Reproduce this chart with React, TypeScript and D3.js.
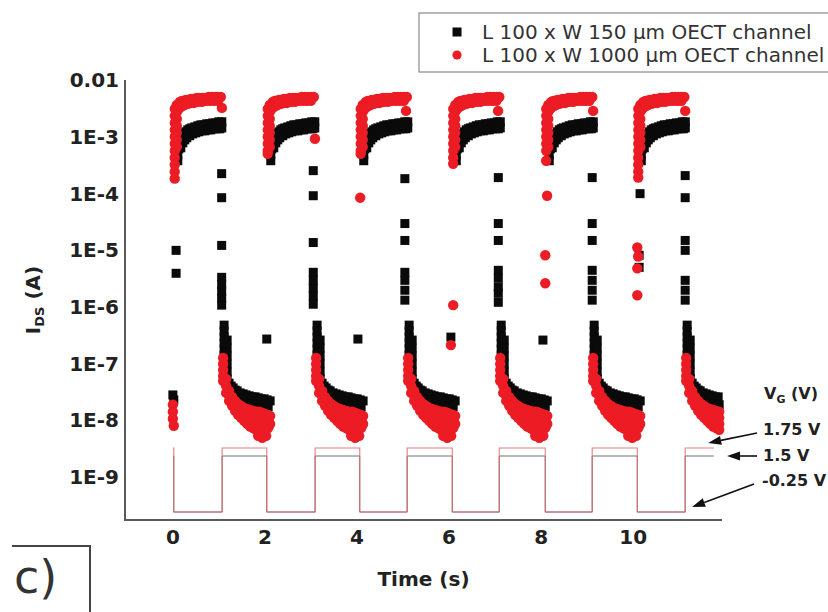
import React from 'react'
import * as d3 from 'd3'

type Pt = [number, number]

// Axes
const timeTicks = [0, 2, 4, 6, 8, 10]
const currentTicks = [1e-2, 1e-3, 1e-4, 1e-5, 1e-6, 1e-7, 1e-8, 1e-9]
const currentTickLabels = ['0.01', '1E-3', '1E-4', '1E-5', '1E-6', '1E-7', '1E-8', '1E-9']

// Gate switching (s): ON phases start at gateFall, OFF phases at gateRise
const gateFall = [0.02, 2.04, 4.06, 6.07, 8.09, 10.09]
const gateRise = [1.07, 3.09, 5.09, 7.09, 9.11, 11.13]
const gateStart = 0.0
const gateStop = 11.75
const recordEnd = 11.87
const gateLow = -0.25
const gateHighW150 = 1.5
const gateHighW1000 = 1.75

// One switching cycle: [s after the switch, I_DS (A)]
const blackOnTrace: Pt[] = [
  [0.087, 3.77e-4], [0.087, 4.8e-4], [0.109, 6.1e-4], [0.13, 7.5e-4], [0.152, 8.8e-4],
  [0.174, 9.96e-4], [0.217, 1.12e-3], [0.261, 1.22e-3], [0.304, 1.32e-3], [0.348, 1.38e-3],
  [0.391, 1.43e-3], [0.457, 1.49e-3], [0.522, 1.56e-3], [0.587, 1.62e-3], [0.652, 1.62e-3],
  [0.717, 1.69e-3], [0.783, 1.69e-3], [0.848, 1.75e-3], [0.913, 1.75e-3], [0.978, 1.83e-3],
  [1.043, 1.83e-3],
  [0.152, 6.38e-4], [0.196, 7.8e-4], [0.239, 8.8e-4], [0.283, 9.6e-4], [0.348, 1.04e-3],
  [0.413, 1.12e-3], [0.478, 1.17e-3], [0.543, 1.22e-3], [0.609, 1.27e-3], [0.674, 1.27e-3],
  [0.739, 1.32e-3], [0.804, 1.32e-3], [0.87, 1.38e-3], [0.935, 1.38e-3], [1.0, 1.38e-3],
  [1.043, 1.43e-3],
]
const redOnTrace: Pt[] = [
  [0.022, 5.65e-4], [0.022, 7.5e-4], [0.022, 9.96e-4], [0.022, 1.32e-3], [0.022, 1.75e-3],
  [0.022, 2.33e-3], [0.022, 3.09e-3],
  [0.065, 6.6e-4], [0.065, 8.8e-4], [0.065, 1.17e-3], [0.065, 1.56e-3], [0.065, 2.06e-3],
  [0.065, 2.74e-3], [0.065, 3.64e-3],
  [0.13, 4.11e-3], [0.174, 4.28e-3], [0.217, 4.28e-3], [0.261, 4.45e-3], [0.304, 4.45e-3],
  [0.37, 4.64e-3], [0.435, 4.64e-3], [0.5, 4.83e-3], [0.565, 4.83e-3], [0.63, 4.83e-3],
  [0.696, 4.83e-3], [0.761, 5.02e-3], [0.826, 5.02e-3], [0.891, 5.02e-3], [0.957, 5.02e-3],
  [1.022, 5.02e-3],
  [0.109, 3.09e-3], [0.152, 3.35e-3], [0.196, 3.49e-3], [0.239, 3.64e-3], [0.304, 3.79e-3],
  [0.37, 3.94e-3], [0.435, 3.94e-3], [0.522, 4.11e-3], [0.609, 4.11e-3], [0.696, 4.28e-3],
  [0.783, 4.28e-3], [0.87, 4.28e-3], [0.957, 4.28e-3],
]
const blackOffTrace: Pt[] = [
  [0.043, 4.75e-7], [0.043, 3.73e-7], [0.043, 2.92e-7], [0.043, 2.29e-7], [0.043, 1.8e-7],
  [0.043, 1.41e-7], [0.043, 1.11e-7], [0.043, 8.7e-8], [0.043, 6.8e-8],
  [0.109, 2.59e-7], [0.109, 1.87e-7], [0.109, 1.36e-7], [0.109, 9.8e-8], [0.109, 7.1e-8],
  [0.109, 5.35e-8],
  [0.152, 4.5e-8], [0.196, 4.0e-8], [0.239, 3.71e-8], [0.283, 3.4e-8], [0.326, 3.29e-8],
  [0.391, 3.03e-8], [0.457, 2.91e-8], [0.522, 2.79e-8], [0.587, 2.69e-8], [0.652, 2.58e-8],
  [0.717, 2.58e-8], [0.783, 2.48e-8], [0.848, 2.38e-8], [0.913, 2.38e-8], [0.978, 2.28e-8],
  [1.043, 2.19e-8],
  [0.174, 3.29e-8], [0.239, 2.79e-8], [0.304, 2.48e-8], [0.391, 2.28e-8], [0.478, 2.11e-8],
  [0.565, 2.02e-8], [0.652, 1.94e-8], [0.739, 1.87e-8], [0.826, 1.79e-8], [0.913, 1.79e-8],
  [1.0, 1.72e-8],
  [0.957, 1.1e-8], [1.022, 8.6e-9],
]
const redOffTrace: Pt[] = [
  [0.022, 1.25e-7], [0.022, 9.8e-8], [0.022, 7.69e-8], [0.022, 6.03e-8], [0.022, 4.92e-8],
  [0.087, 5.35e-8], [0.087, 4.03e-8], [0.087, 3.03e-8],
  [0.152, 3.29e-8], [0.152, 2.69e-8], [0.152, 2.19e-8],
  [0.217, 2.58e-8], [0.217, 2.11e-8], [0.217, 1.79e-8],
  [0.283, 2.19e-8], [0.283, 1.79e-8], [0.283, 1.46e-8],
  [0.348, 1.94e-8], [0.348, 1.58e-8], [0.348, 1.24e-8],
  [0.413, 1.79e-8], [0.413, 1.41e-8], [0.413, 1.1e-8],
  [0.478, 1.65e-8], [0.478, 1.29e-8], [0.478, 9.8e-9],
  [0.543, 1.58e-8], [0.543, 1.29e-8], [0.543, 1.06e-8], [0.543, 8.6e-9],
  [0.609, 1.52e-8], [0.609, 1.19e-8], [0.609, 9.8e-9], [0.609, 7.7e-9],
  [0.674, 1.46e-8], [0.674, 1.15e-8], [0.674, 9.4e-9], [0.674, 7.3e-9],
  [0.739, 1.41e-8], [0.739, 1.1e-8], [0.739, 8.6e-9], [0.739, 6.8e-9],
  [0.804, 1.41e-8], [0.804, 1.1e-8], [0.804, 8.6e-9], [0.804, 6.5e-9],
  [0.87, 1.35e-8], [0.87, 1.06e-8], [0.87, 8.0e-9], [0.87, 6.3e-9],
  [0.935, 1.29e-8], [0.935, 1.02e-8], [0.935, 8.0e-9], [0.935, 6.5e-9],
  [1.0, 1.24e-8], [1.0, 9.8e-9], [1.0, 7.3e-9],
  [1.043, 1.19e-8], [1.043, 8.6e-9],
  [0.783, 5.3e-9], [0.87, 4.9e-9], [0.957, 5.3e-9],
]

// Points that differ from cycle to cycle: [t (s), I_DS (A)]
const blackExtra: Pt[] = [
  [0.0, 2.79e-8], [0.02, 2.28e-8],
  [0.07, 9.9e-6], [0.07, 3.9e-6],
  [2.04, 2.7e-7], [4.02, 2.7e-7], [6.04, 2.92e-7], [8.04, 2.59e-7],
  [10.15, 9.9e-5], [10.13, 8.1e-6], [10.13, 4.97e-6],
  [1.06, 2.23e-4], [1.06, 8.4e-5], [1.06, 1.21e-5], [1.06, 3.31e-6], [1.06, 2.5e-6], [1.06, 1.88e-6], [1.06, 1.42e-6], [1.06, 1.07e-6],
  [3.05, 2.52e-4], [3.05, 9.1e-5], [3.05, 1.36e-5], [3.05, 4.06e-6], [3.05, 2.93e-6], [3.05, 2.12e-6], [3.05, 1.54e-6], [3.05, 1.11e-6],
  [5.04, 1.82e-4], [5.04, 2.94e-5], [5.04, 1.48e-5], [5.04, 4.06e-6], [5.04, 2.93e-6], [5.04, 1.96e-6], [5.04, 1.31e-6],
  [7.07, 1.9e-4], [7.07, 2.94e-5], [7.07, 1.48e-5], [7.07, 4.4e-6], [7.07, 3.18e-6], [7.07, 2.21e-6], [7.07, 1.73e-6], [7.07, 1.2e-6],
  [9.11, 1.9e-4], [9.11, 2.94e-5], [9.11, 1.48e-5], [9.11, 4.4e-6], [9.11, 2.93e-6], [9.11, 1.96e-6], [9.11, 1.31e-6],
  [11.13, 2.06e-4], [11.13, 8.4e-5], [11.13, 1.48e-5], [11.13, 9.9e-6], [11.13, 2.93e-6], [11.13, 1.96e-6], [11.13, 1.31e-6],
]
const redExtra: Pt[] = [
  [0.0, 1.87e-8], [0.0, 1.41e-8], [0.0, 1.06e-8], [0.02, 8.0e-9],
  [0.04, 4.26e-4], [0.04, 3.21e-4], [0.04, 2.42e-4], [0.04, 1.82e-4],
  [2.06, 5.0e-4],
  [4.08, 5.0e-4], [4.07, 8.4e-5],
  [6.09, 4.26e-4], [6.09, 3.34e-4], [6.09, 1.07e-6], [6.04, 2.11e-7],
  [8.11, 3.77e-4], [8.13, 9.1e-5], [8.09, 8.1e-6], [8.09, 2.6e-6],
  [10.11, 4.26e-4], [10.11, 3.21e-4], [10.11, 2.42e-4], [10.11, 1.9e-4],
  [10.09, 1.11e-5], [10.11, 7.7e-6], [10.09, 4.77e-6], [10.09, 1.6e-6],
  [1.065, 3.22e-3], [3.087, 9.19e-4], [5.065, 2.85e-3], [7.065, 2.85e-3], [9.13, 2.85e-3], [11.13, 2.85e-3],
]

const legendLabels = ['L 100 x W 150 µm OECT channel', 'L 100 x W 1000 µm OECT channel']

const FONT = '"DejaVu Sans", "Liberation Sans", Arial, sans-serif'
const RED = '#ec1c24'

function Arrow({ x1, y1, x2, y2 }: { x1: number; y1: number; x2: number; y2: number }) {
  const a = Math.atan2(y2 - y1, x2 - x1)
  const len = 13
  const hw = 4.5
  const bx = x2 - len * Math.cos(a)
  const by = y2 - len * Math.sin(a)
  const px = -Math.sin(a) * hw
  const py = Math.cos(a) * hw
  return (
    <g>
      <line x1={x1} y1={y1} x2={bx} y2={by} stroke="#111" strokeWidth={1.6} />
      <polygon points={`${x2},${y2} ${bx + px},${by + py} ${bx - px},${by - py}`} fill="#111" />
    </g>
  )
}

export default function App() {
  const width = 828
  const height = 612
  const m = { left: 125, right: 722, top: 80, bottom: 520 }

  const x = d3.scaleLinear().domain([-1.04, 11.93]).range([m.left, m.right])
  const y = d3.scaleLog().domain([Math.pow(10, -9.76), 1e-2]).range([m.bottom, m.top])
  const yGate = d3.scaleLinear().domain([-0.5, 13.25]).range([m.bottom, m.top])

  const repeat = (starts: number[], trace: Pt[]): Pt[] =>
    starts.flatMap((t0) => trace.map(([dt, v]) => [t0 + dt, v] as Pt))

  const w150 = [...repeat(gateFall, blackOnTrace), ...repeat(gateRise, blackOffTrace), ...blackExtra]
    .filter((d) => d[0] <= recordEnd)
  const w1000 = [...repeat(gateFall, redOnTrace), ...repeat(gateRise, redOffTrace), ...redExtra]
    .filter((d) => d[0] <= recordEnd)

  const gatePoints = (high: number): Pt[] => {
    const pts: Pt[] = [[gateStart, high]]
    gateFall.forEach((tf, i) => {
      pts.push([tf, gateLow])
      pts.push([gateRise[i], high])
    })
    pts.push([gateStop, high])
    return pts
  }
  const gateLine = d3
    .line<Pt>()
    .x((d) => x(d[0]))
    .y((d) => yGate(d[1]))
    .curve(d3.curveStepAfter)

  const sq = 9

  return (
    <svg
      width={width}
      height={height}
      style={{ position: 'absolute', left: 0, top: 0, background: '#fff' }}
      fontFamily={FONT}
    >
      <rect width={width} height={height} fill="#fff" />

      {/* gate voltage traces */}
      <path d={gateLine(gatePoints(gateHighW150)) || ''} fill="none" stroke="#6e6e6e" strokeWidth={1} />
      <path d={gateLine(gatePoints(gateHighW1000)) || ''} fill="none" stroke="#dc6a6a" strokeWidth={1.1} opacity={0.85} />

      {/* W 150 µm: black squares */}
      <g fill="#0a0a0a">
        {w150.map((d, i) => (
          <rect key={i} x={x(d[0]) - sq / 2} y={y(d[1]) - sq / 2} width={sq} height={sq} />
        ))}
      </g>
      {/* W 1000 µm: red circles */}
      <g fill={RED}>
        {w1000.map((d, i) => (
          <circle key={i} cx={x(d[0])} cy={y(d[1])} r={5.2} />
        ))}
      </g>

      {/* axes */}
      <path
        d={`M${m.left},${m.top}V${m.bottom}H${m.right}`}
        fill="none"
        stroke="#5a5a5a"
        strokeWidth={2}
      />
      <g fontWeight="bold" fontSize={20} fill="#222">
        {currentTicks.map((t, i) => (
          <text key={t} x={m.left - 6} y={y(t)} dy="0.36em" textAnchor="end">
            {currentTickLabels[i]}
          </text>
        ))}
        {timeTicks.map((t) => (
          <text key={t} x={x(t)} y={m.bottom + 24} textAnchor="middle">
            {t}
          </text>
        ))}
        <text x={(m.left + m.right) / 2} y={586} textAnchor="middle">
          Time (s)
        </text>
        <text transform="translate(40,300) rotate(-90)" textAnchor="middle">
          <tspan>I</tspan>
          <tspan fontSize={13} dy={4}>DS</tspan>
          <tspan dy={-4}> (A)</tspan>
        </text>
      </g>

      {/* gate annotations */}
      <g fontWeight="bold" fontSize={16} fill="#222">
        <text x={764} y={399}>
          V<tspan fontSize={11} dy={4}>G</tspan>
          <tspan dy={-4}> (V)</tspan>
        </text>
        <text x={763} y={435}>1.75 V</text>
        <text x={763} y={461}>1.5 V</text>
        <text x={762} y={486}>-0.25 V</text>
      </g>
      <Arrow x1={757} y1={433} x2={x(11.63)} y2={yGate(gateHighW1000) - 5} />
      <Arrow x1={757} y1={456} x2={x(12.04)} y2={yGate(gateHighW150)} />
      <Arrow x1={754} y1={484} x2={x(11.28)} y2={yGate(gateLow) - 5} />

      {/* legend */}
      <rect x={419} y={13} width={430} height={59} fill="#fff" stroke="#8a8a8a" strokeWidth={1.2} />
      <rect x={457 - 4.5} y={32 - 4.5} width={9} height={9} fill="#0a0a0a" />
      <circle cx={457} cy={55} r={4.6} fill={RED} />
      <g fontSize={20} fill="#333">
        <text x={482} y={39}>{legendLabels[0]}</text>
        <text x={482} y={62}>{legendLabels[1]}</text>
      </g>

      {/* panel tag */}
      <path d="M12,546H90V612" fill="none" stroke="#444" strokeWidth={2} />
      <text x={14} y={593} fontSize={46} fill="#333">
        c)
      </text>
    </svg>
  )
}
